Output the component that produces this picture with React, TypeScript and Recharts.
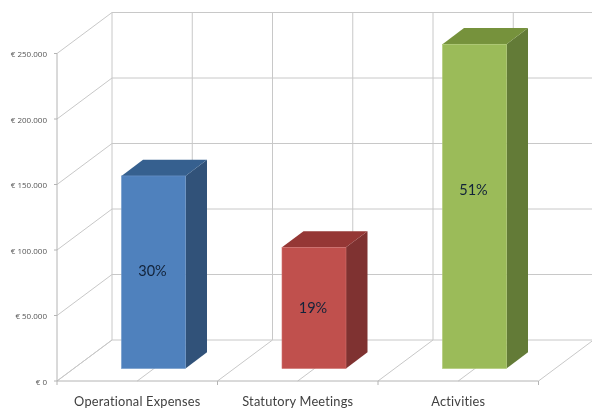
import React from 'react';
import { BarChart, Bar, XAxis, YAxis, CartesianGrid, LabelList } from 'recharts';

const categories = ['Operational Expenses', 'Statutory Meetings', 'Activities'];
const amounts = [147000, 92500, 247500];
const shares = ['30%', '19%', '51%'];
const yTicks = [0, 50000, 100000, 150000, 200000, 250000];
const yTickLabels = ['€ 0', '€ 50.000', '€ 100.000', '€ 150.000', '€ 200.000', '€ 250.000'];

const rows = categories.map((name, i) => ({ name, amount: amounts[i], share: shares[i] }));

const W = 592;
const H = 410;
const PLOT = { left: 57, right: 538.5, top: 53.5, bottom: 381 };
const BAND = (PLOT.right - PLOT.left) / categories.length;
const DEPTH_X = 55;
const DEPTH_Y = 41;
const BAR_SHIFT_X = 16.5;
const BAR_SHIFT_Y = 12.5;
const BAR_SIDE_X = 21.5;
const BAR_SIDE_Y = 16.2;
const GRID = '#c8c8c8';
const AXIS = '#b4b4b4';
const faces = [
  { front: '#4f81bd', top: '#36608f', side: '#315279', edge: '#6f97c8' },
  { front: '#c0504d', top: '#953735', side: '#7f3231', edge: '#cf6f6c' },
  { front: '#9bbb59', top: '#76923c', side: '#637b37', edge: '#adc872' },
];
const labelAt = [0.49, 0.495, 0.447];

const HorizontalGrid = (p: any) => {
  const y = p.y1;
  const bx = p.x1 + DEPTH_X;
  const by = y - DEPTH_Y;
  return (
    <g key={p.key} fill="none" stroke={GRID} strokeWidth={1}>
      <line x1={p.x1} y1={y} x2={bx} y2={by} />
      <line x1={bx} y1={by} x2={W} y2={by} />
    </g>
  );
};

const VerticalGrid = (p: any) => {
  const x = p.x1;
  // the grid also reports the two plot edges; only the band centres are used here
  if (x <= PLOT.left + 1 || x >= PLOT.right - 1) return <g key={p.key} />;
  const top = p.y1 - DEPTH_Y;
  const bottom = p.y2 - DEPTH_Y;
  const stops = [x - BAND / 2, x];
  const last = x + BAND / 2 >= PLOT.right - 1;
  return (
    <g key={p.key} fill="none" stroke={GRID} strokeWidth={1}>
      {stops.map((f) => (
        <g key={f}>
          <line x1={f + DEPTH_X} y1={top} x2={f + DEPTH_X} y2={bottom} />
          <line x1={f} y1={p.y2} x2={f + DEPTH_X} y2={bottom} />
        </g>
      ))}
      <line x1={x - BAND / 2} y1={p.y2} x2={x - BAND / 2} y2={p.y2 + 4} stroke={AXIS} />
      {last && (
        <>
          <line x1={x + BAND / 2} y1={p.y2} x2={x + BAND / 2 + DEPTH_X} y2={bottom} />
          <line x1={x + BAND / 2} y1={p.y2} x2={x + BAND / 2} y2={p.y2 + 4} stroke={AXIS} />
        </>
      )}
    </g>
  );
};

const Bar3D = (p: any) => {
  const c = faces[p.index];
  const x0 = p.x + BAR_SHIFT_X;
  const x1 = x0 + p.width;
  const y0 = p.y - BAR_SHIFT_Y;
  const y1 = y0 + p.height;
  const sx = BAR_SIDE_X;
  const sy = BAR_SIDE_Y;
  return (
    <g>
      <polygon points={`${x1},${y0} ${x1 + sx},${y0 - sy} ${x1 + sx},${y1 - sy} ${x1},${y1}`} fill={c.side} />
      <polygon points={`${x0},${y0} ${x0 + sx},${y0 - sy} ${x1 + sx},${y0 - sy} ${x1},${y0}`} fill={c.top} />
      <rect x={x0} y={y0} width={p.width} height={p.height} fill={c.front} stroke={c.edge} strokeWidth={0.6} />
    </g>
  );
};

const ShareLabel = (p: any) => (
  <text
    x={p.x + BAR_SHIFT_X + p.width / 2 - 1}
    y={p.y - BAR_SHIFT_Y + p.height * labelAt[p.index]}
    textAnchor="middle"
    dominantBaseline="central"
    fontFamily="Lato, sans-serif"
    fontSize={14.5}
    fill="#12233a"
  >
    {p.value}
  </text>
);

const YTick = (p: any) => (
  <text
    x={p.x}
    y={p.y}
    textAnchor="end"
    dominantBaseline="central"
    fontFamily="'Open Sans', sans-serif"
    fontSize={8}
    fill="#555555"
  >
    {yTickLabels[yTicks.indexOf(p.payload.value)]}
  </text>
);

const XTick = (p: any) => (
  <text
    x={p.x}
    y={H - 9}
    textAnchor="middle"
    dominantBaseline="central"
    fontFamily="Lato, sans-serif"
    fontSize={12.8}
    letterSpacing={0.2}
    fill="#404040"
  >
    {p.payload.value}
  </text>
);

export default function App() {
  return (
    <div style={{ position: 'absolute', left: 0, top: 0, width: W, height: H, background: '#fff', filter: 'blur(0.35px)' }}>
      <BarChart
        width={W}
        height={H}
        data={rows}
        margin={{ top: PLOT.top, right: W - PLOT.right, bottom: 0, left: 0 }}
        barSize={64}
      >
        <CartesianGrid horizontal={HorizontalGrid} vertical={VerticalGrid} />
        <XAxis
          dataKey="name"
          height={H - PLOT.bottom}
          tickLine={false}
          axisLine={{ stroke: AXIS }}
          tick={XTick}
          interval={0}
        />
        <YAxis
          width={PLOT.left}
          domain={[0, 250000]}
          ticks={yTicks}
          tickSize={3}
          tickMargin={7}
          tickLine={{ stroke: AXIS }}
          axisLine={{ stroke: AXIS }}
          tick={YTick}
          interval={0}
        />
        <Bar dataKey="amount" shape={Bar3D} isAnimationActive={false}>
          <LabelList dataKey="share" content={ShareLabel} />
        </Bar>
      </BarChart>
    </div>
  );
}
